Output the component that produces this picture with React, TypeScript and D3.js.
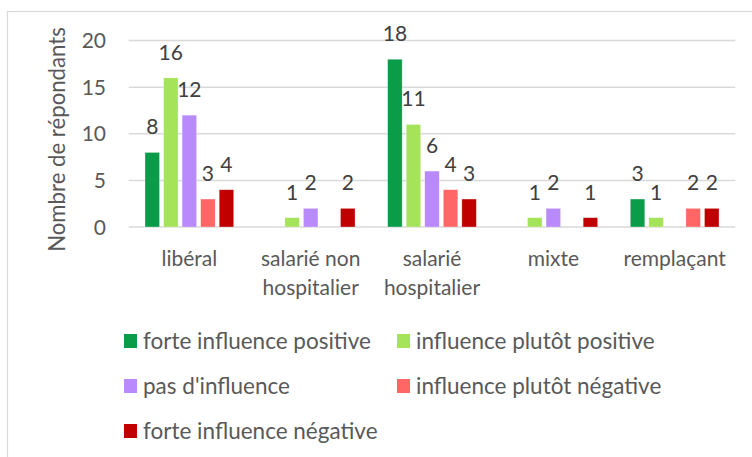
import React from "react";
import * as d3 from "d3";

const categories: string[][] = [
  ["libéral"],
  ["salarié non", "hospitalier"],
  ["salarié", "hospitalier"],
  ["mixte"],
  ["remplaçant"],
];
const seriesNames = [
  "forte influence positive",
  "influence plutôt positive",
  "pas d'influence",
  "influence plutôt négative",
  "forte influence négative",
];
const seriesColors = ["#0b9c4a", "#a4e35a", "#b98afc", "#ff6666", "#c00000"];
// values per series, per category (null = no bar / no label)
const fortePositive = [8, null, 18, null, 3];
const plutotPositive = [16, 1, 11, 1, 1];
const pasInfluence = [12, 2, 6, 2, null];
const plutotNegative = [3, null, 4, null, 2];
const forteNegative = [4, 2, 3, 1, 2];
const seriesValues = [fortePositive, plutotPositive, pasInfluence, plutotNegative, forteNegative];
const yTicks = [0, 5, 10, 15, 20];
const yTitle = "Nombre de répondants";

const FONT = "Lato, 'Liberation Sans', sans-serif";
const TEXT = "#595959";

export default function App() {
  const W = 752, H = 457;
  const plotLeft = 128.7, plotRight = 735.3, y0 = 227, y20 = 40.6;
  const x = d3.scaleBand<number>().domain(d3.range(categories.length)).range([plotLeft, plotRight]).padding(0);
  const y = d3.scaleLinear().domain([0, 20]).range([y0, y20]);
  const groupW = 88.7;
  const sub = d3.scaleBand<number>().domain(d3.range(seriesNames.length)).range([0, groupW]).paddingInner(0.218).paddingOuter(0);

  const legendPos = [
    [124, 341], [397, 341], [124, 386], [397, 386], [124, 431],
  ];

  return (
    <svg width={W} height={H} style={{ position: "absolute", left: 0, top: 0 }} fontFamily={FONT}>
      <rect x={0} y={0} width={W} height={H} fill="#fff" />
      <rect x={7.5} y={11.5} width={800} height={500} fill="none" stroke="#d9d9d9" strokeWidth={1.2} />
      {yTicks.map((t) => (
        <g key={t}>
          <line x1={plotLeft} x2={plotRight} y1={y(t)} y2={y(t)} stroke="#d9d9d9" strokeWidth={1.5} />
          <text x={106} y={y(t)} dy="0.36em" textAnchor="end" fontSize={21} fill={TEXT}>{t}</text>
        </g>
      ))}
      <text transform={`translate(65,139.5) rotate(-90)`} textAnchor="middle" fontSize={22.2} fill={TEXT}>{yTitle}</text>
      {categories.map((cat, ci) => {
        const cx = (x(ci) as number) + x.bandwidth() / 2;
        const gx = cx - groupW / 2;
        return (
          <g key={ci}>
            {seriesValues.map((vals, si) => {
              const v = vals[ci];
              if (v === null) return null;
              const bx = gx + (sub(si) as number);
              return (
                <g key={si}>
                  <rect x={bx} y={y(v)} width={sub.bandwidth()} height={y(0) - y(v)} fill={seriesColors[si]} stroke="#ffffff" strokeOpacity={0.5} strokeWidth={0.6} />
                  <text x={bx + sub.bandwidth() / 2} y={y(v) - 18} textAnchor="middle" fontSize={21} fill="#404040">{v}</text>
                </g>
              );
            })}
            {cat.map((line, li) => (
              <text key={li} x={cx} y={266 + li * 29} textAnchor="middle" fontSize={21} fill={TEXT}>{line}</text>
            ))}
          </g>
        );
      })}
      {seriesNames.map((name, si) => (
        <g key={si}>
          <rect x={legendPos[si][0]} y={legendPos[si][1] - 7} width={13} height={14} fill={seriesColors[si]} />
          <text x={legendPos[si][0] + 19} y={legendPos[si][1]} dy="0.36em" fontSize={22.5} fill={TEXT}>{name}</text>
        </g>
      ))}
    </svg>
  );
}
